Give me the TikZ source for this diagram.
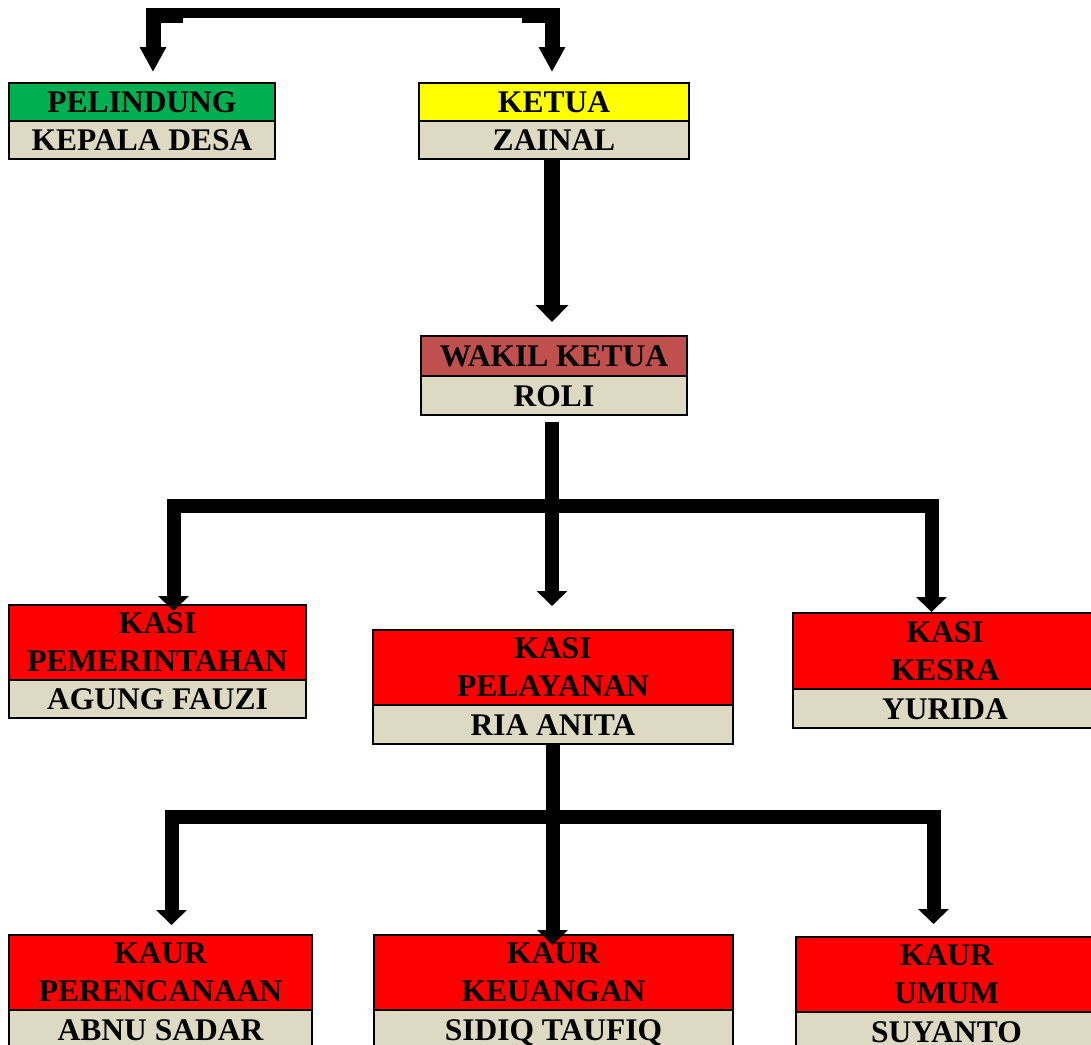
\documentclass[tikz,border=0pt]{standalone}
\usepackage{fontspec}
\setmainfont{Liberation Serif}
\usetikzlibrary{arrows.meta,calc}
\definecolor{cgreen}{HTML}{00B050}
\definecolor{cyellow}{HTML}{FFFF00}
\definecolor{cwakil}{HTML}{C0504D}
\definecolor{cred}{HTML}{FF0000}
\definecolor{cbeige}{HTML}{DDD9C3}
\begin{document}
\begin{tikzpicture}[x=1pt,y=-1pt,
  cell/.style={draw=black, line width=2pt, inner sep=0pt, outer sep=0pt,
    font=\bfseries\fontsize{31.5}{38}\selectfont, align=center, text=black},
  one/.style={text height=21pt, text depth=0pt},
  topconn/.style={draw=black, line width=15pt, -{Triangle[width=25pt,length=25pt]}},
  midconn/.style={draw=black, line width=16pt, -{Triangle[width=32pt,length=17pt]}},
  lowconn/.style={draw=black, line width=14pt, -{Triangle[width=30pt,length=15pt]}},
]
\useasboundingbox (0,0) rectangle (1091,1044);
\clip (0,0) rectangle (1091,1044);

% level 0
\node[cell, one, fill=cgreen, minimum width=266pt, minimum height=38pt] (pel) at (142,102) {PELINDUNG};
\node[cell, one, fill=cbeige, minimum width=266pt, minimum height=38pt] (kdes) at (142,140) {KEPALA DESA};
\node[cell, one, fill=cyellow, minimum width=270pt, minimum height=38pt] (ketua) at (554,102) {KETUA};
\node[cell, one, fill=cbeige, minimum width=270pt, minimum height=38pt] (zainal) at (554,140) {ZAINAL};

% level 1
\node[cell, one, fill=cwakil, minimum width=266pt, minimum height=40pt] (wakil) at (554,356) {WAKIL KETUA};
\node[cell, one, fill=cbeige, minimum width=266pt, minimum height=39pt] (roli) at (554,395.5) {ROLI};

% level 2
\node[cell, fill=cred, minimum width=297pt, minimum height=75pt] (kpem) at (157.5,642.5) {KASI\\PEMERINTAHAN};
\node[cell, one, fill=cbeige, minimum width=297pt, minimum height=38pt] (agung) at (157.5,699) {AGUNG FAUZI};
\node[cell, fill=cred, minimum width=360pt, minimum height=75pt] (kpel) at (553,667.5) {KASI\\PELAYANAN};
\node[cell, one, fill=cbeige, minimum width=360pt, minimum height=39pt] (ria) at (553,724.5) {RIA ANITA};
\node[cell, fill=cred, minimum width=304pt, minimum height=76pt] (kkes) at (945,651) {KASI\\KESRA};
\node[cell, one, fill=cbeige, minimum width=304pt, minimum height=39pt] (yurida) at (945,708.5) {YURIDA};

% level 3
\node[cell, fill=cred, minimum width=303pt, minimum height=75pt] (kper) at (160.5,972.5) {KAUR\\PERENCANAAN};
\node[cell, one, fill=cbeige, minimum width=303pt, minimum height=39pt] (abnu) at (160.5,1029.5) {ABNU SADAR};
\node[cell, fill=cred, minimum width=359pt, minimum height=75pt] (kkeu) at (553.5,972.5) {KAUR\\KEUANGAN};
\node[cell, one, fill=cbeige, minimum width=359pt, minimum height=39pt] (sidiq) at (553.5,1029.5) {SIDIQ TAUFIQ};
\node[cell, fill=cred, minimum width=301pt, minimum height=75pt] (kumum) at (946.5,974.5) {KAUR\\UMUM};
\node[cell, one, fill=cbeige, minimum width=301pt, minimum height=39pt] (suy) at (946.5,1031.5) {SUYANTO};

% top connector
\coordinate (jl) at (183,15.5);
\coordinate (jr) at (522,15.5);
\draw[black, line width=10pt] ([shift={(-16,-2.5)}]jl) -- ([shift={(15,-2.5)}]jr);
\draw[topconn, shorten >=11pt] (jl) -| ([xshift=11pt]pel.north);
\draw[topconn, shorten >=11pt] (jr) -| ([xshift=-2pt]ketua.north);

% ketua -> wakil
\draw[midconn, shorten >=14pt] ([xshift=-2pt]zainal.south) -- ([xshift=-2pt]wakil.north);

% wakil -> kasi
\coordinate (h1) at (552,505.5);
\draw[lowconn, shorten <=7pt, shorten >=24pt] (roli.south -| h1) -- (h1 |- kpel.north);
\draw[lowconn, shorten >=-6pt] (h1) -| ([xshift=16pt]kpem.north);
\draw[lowconn, shorten >=1pt] (h1) -| ([xshift=-13.5pt]kkes.north);

% pelayanan -> kaur
\coordinate (h2) at (552.5,817);
\draw[lowconn, shorten >=-10pt] (ria.south -| h2) -- (h2 |- kkeu.north);
\draw[lowconn, shorten >=10pt] (h2) -| ([xshift=11pt]kper.north);
\draw[lowconn, shorten >=13pt] (h2) -| ([xshift=-13pt]kumum.north);
\end{tikzpicture}
\end{document}
